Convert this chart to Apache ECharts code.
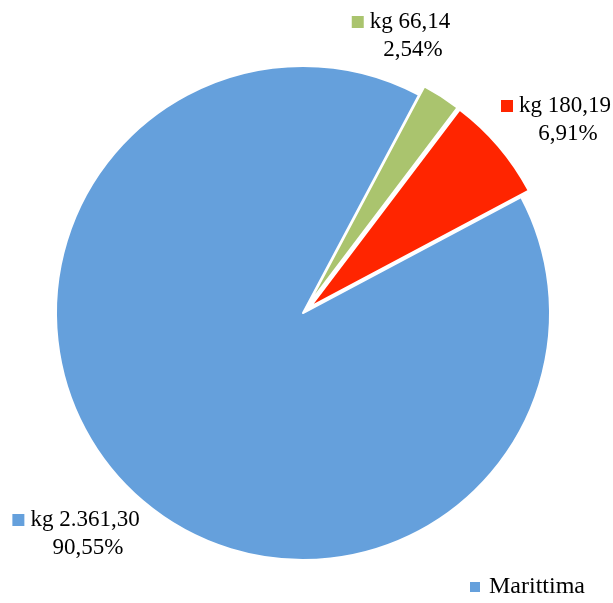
<!DOCTYPE html>
<html>
<head>
<meta charset="utf-8">
<style>
  html, body { margin: 0; padding: 0; background: #ffffff; }
  #chart { width: 613px; height: 603px; }
</style>
<script src="https://cdn.jsdelivr.net/npm/echarts@6/dist/echarts.min.js"></script>
</head>
<body>
<div id="chart"></div>
<script>
// Quantities by transport mode (kg); only the sea share is named in the legend
const categories = ['', ' ', 'Marittima'];
const valuesKg = [66.14, 180.19, 2361.30];
const colors = ['#AAC46E', '#FF2500', '#65A0DC'];
const exploded = [true, true, false];

const FONT = "'Liberation Serif', 'Times New Roman', serif";

const total = valuesKg.reduce((a, b) => a + b, 0);

function fmtIt(n, decimals) {
  const parts = n.toFixed(decimals).split('.');
  parts[0] = parts[0].replace(/\B(?=(\d{3})+(?!\d))/g, '.');
  return parts.join(',');
}

// label placement for each slice (centre of the two-line label)
const labelSpots = [
  { x: 410, y: 36 },
  { x: 565, y: 120 },
  { x: 85, y: 534 }
];

const PIE_CENTER = [303, 313];
const PIE_RADIUS = 247;
const START_ANGLE = 62;

const chart = echarts.init(document.getElementById('chart'), null, { renderer: 'canvas' });

chart.setOption({
  backgroundColor: '#ffffff',
  animation: false,
  legend: {
    data: ['Marittima'],
    left: 463,
    top: 570,
    itemWidth: 12,
    itemHeight: 12,
    icon: 'rect',
    selectedMode: false,
    textStyle: {
      fontFamily: FONT,
      fontSize: 24,
      lineHeight: 24,
      color: '#000',
      padding: [0, 0, 0, 3]
    }
  },
  series: [
    {
      // the slices, with the two small ones pulled out
      type: 'pie',
      center: PIE_CENTER,
      radius: PIE_RADIUS,
      startAngle: START_ANGLE,
      clockwise: true,
      selectedMode: 'multiple',
      selectedOffset: 10,
      emphasis: { disabled: true },
      itemStyle: { borderColor: '#ffffff', borderWidth: 2 },
      label: { show: false },
      labelLine: { show: false },
      data: categories.map((name, i) => ({
        name: name,
        value: valuesKg[i],
        selected: exploded[i],
        itemStyle: { color: colors[i] }
      }))
    },
    {
      // transparent twin that carries the value / percentage labels
      type: 'pie',
      center: PIE_CENTER,
      radius: PIE_RADIUS,
      startAngle: START_ANGLE,
      clockwise: true,
      silent: true,
      selectedMode: false,
      emphasis: { disabled: true },
      itemStyle: { color: 'rgba(0,0,0,0)', borderWidth: 0 },
      labelLine: { show: false },
      label: {
        show: true,
        position: 'inside',
        overflow: 'none',
        fontFamily: FONT,
        color: '#000',
        align: 'center',
        formatter: function (p) {
          const i = p.dataIndex;
          const pct = fmtIt(valuesKg[i] / total * 100, 2) + '%';
          return '{m' + i + '|}{v|kg ' + fmtIt(valuesKg[i], 2) + '}{s|}\n{v|' + pct + '}';
        },
        rich: {
          m0: { backgroundColor: colors[0], width: 12, height: 12, padding: 0 },
          m1: { backgroundColor: colors[1], width: 12, height: 12, padding: 0 },
          m2: { backgroundColor: colors[2], width: 12, height: 12, padding: 0 },
          v: { fontFamily: FONT, fontSize: 23, lineHeight: 28, color: '#000', padding: [0, 0, 0, 6] },
          s: { width: 18, height: 12 }
        }
      },
      labelLayout: function (params) {
        const spot = labelSpots[params.dataIndex];
        return { x: spot.x, y: spot.y, align: 'center', verticalAlign: 'middle' };
      },
      data: categories.map((name, i) => ({ name: name, value: valuesKg[i] }))
    }
  ]
});
</script>
</body>
</html>
